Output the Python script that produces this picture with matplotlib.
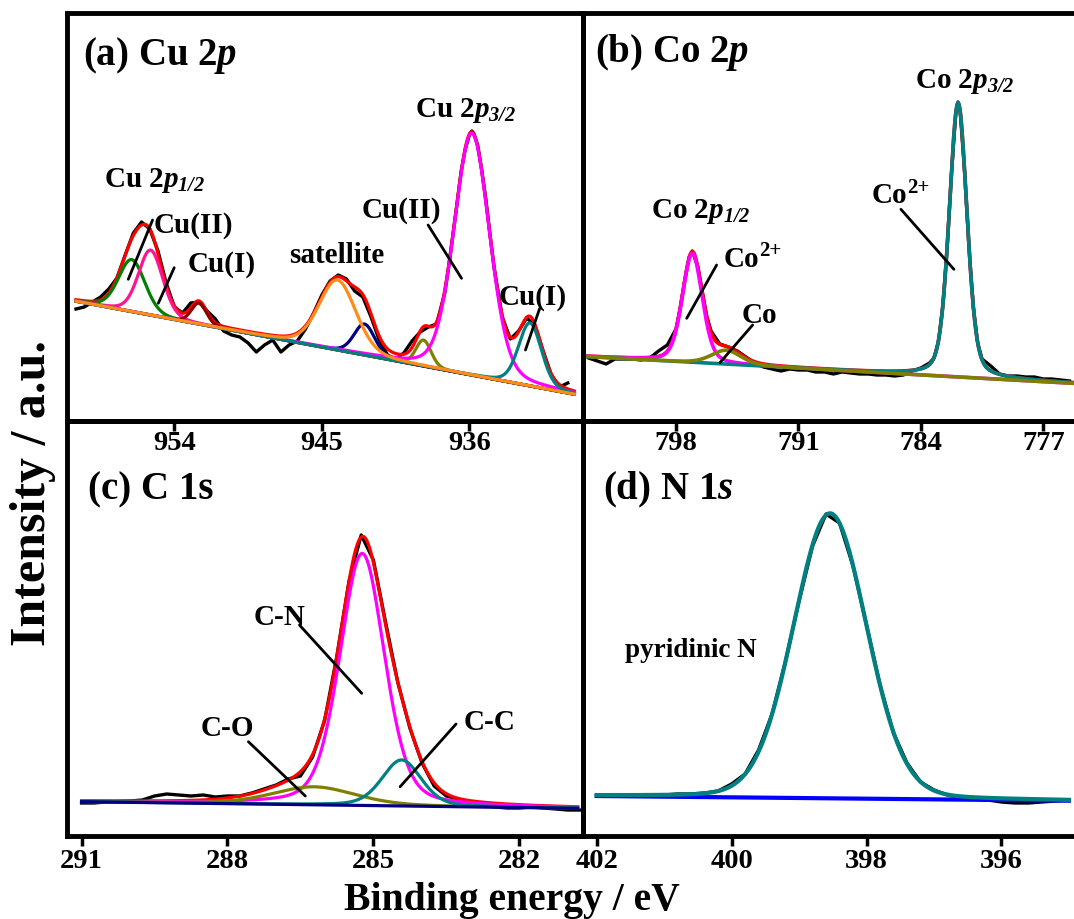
import numpy as np
import matplotlib
matplotlib.use("Agg")
import matplotlib.pyplot as plt

plt.rcParams['font.family'] = ['Liberation Serif', 'DejaVu Serif']
plt.rcParams['font.weight'] = 'bold'
plt.rcParams['mathtext.fontset'] = 'custom'
plt.rcParams['mathtext.rm'] = 'Liberation Serif:bold'
plt.rcParams['mathtext.it'] = 'Liberation Serif:italic:bold'
plt.rcParams['mathtext.bf'] = 'Liberation Serif:bold'
plt.rcParams['mathtext.sf'] = 'Liberation Serif:italic:bold'

# ---------------- data (intensity in arbitrary units) ----------------
# (a) Cu 2p
cu_energy = [960, 959.5, 959, 958.5, 958, 957.5, 957, 956.5, 956, 955.5,
             955, 954.5, 954, 953.5, 953, 952.5, 952, 951.5, 951, 950.5,
             950, 949.5, 949, 948.5, 948, 947.5, 947, 946.5, 946, 945.5,
             945, 944.5, 944, 943.5, 943, 942.5, 942, 941.5, 941, 940.5,
             940, 939.5, 939, 938.5, 938, 937.5, 937.25, 937, 936.75, 936.5,
             936.25, 936, 935.85, 935.75, 935.5, 935.25, 935, 934.75, 934.5, 934,
             933.5, 933, 932.5, 932, 931.5, 931, 930.5, 930]
cu_raw = [112, 114, 119, 124, 132, 143, 166, 188, 199, 192,
          170, 138, 114, 108, 118, 119, 110, 102, 90, 86,
          84, 78, 69, 76, 81, 69, 76, 80, 92, 108,
          126, 140, 146, 142, 130, 124, 104, 81, 66, 62,
          68, 80, 89, 94, 97, 128, 156, 187, 218, 250,
          272, 286, 290, 288, 276, 251, 222, 187, 154, 104,
          82, 90, 103, 95, 70, 46, 34, 38]
cu_base_E = [960.0, 929.6]
cu_base_I = [119.8, 26.8]
cu_center = [956.6, 955.45, 952.5, 942.4, 938.8, 935.85, 932.3, 944.05]
cu_height = [52, 65, 21, 31, 26, 242, 63, 70]
cu_fwhm = [1.9, 1.75, 1.1, 1.5, 1.1, 2.54, 1.65, 2.65]

# (b) Co 2p
co_energy = [803, 802.5, 802, 801.5, 801, 800.5, 800, 799.5, 799, 798.5,
             798, 797.75, 797.5, 797.25, 797.07, 796.75, 796.5, 796.25, 796, 795.5,
             795, 794.5, 794, 793.5, 793, 792.5, 792, 791.5, 791, 790.5,
             790, 789.5, 789, 788.5, 788, 787.5, 787, 786.5, 786, 785.5,
             785, 784.5, 784, 783.5, 783.25, 783, 782.75, 782.5, 782.25, 782,
             781.875, 781.75, 781.5, 781.25, 781, 780.75, 780.5, 780, 779.5, 779,
             778.5, 778, 777.5, 777, 776.5, 776, 775.5]
co_raw = [63, 60, 57, 62, 62, 62, 61, 63, 70, 76,
          92, 114, 141, 164, 170, 154, 129, 105, 90, 77,
          74, 70, 64, 58, 54, 52, 50, 52, 51, 51,
          49, 49, 47, 49, 48, 47, 47, 46, 46, 45,
          46, 50, 53, 58, 63, 79, 114, 172, 248, 308,
          319, 309, 250, 174, 114, 78, 62, 55, 47, 45,
          45, 44, 44, 42, 42, 41, 40]
co_base_E = [803.1, 775.3]
co_base_I = [64.4, 37.7]
co_center = [797.07, 781.87, 795.13]
co_height = [109, 274, 14]
co_fwhm = [1.35, 1.2, 2.0]

# (c) C 1s
c_energy = np.linspace(291, 280.75, 42)
c_raw = [33, 33, 34, 34.5, 35, 36, 40, 42, 41, 40,
         41, 39, 40, 40, 43, 47, 51, 57, 60, 79,
         116, 180, 255, 301, 276, 214, 154, 108, 73, 50,
         40, 37, 33, 31, 29, 28, 28, 29, 28, 27,
         26, 26]
c_base_E = [291.0, 280.8]
c_base_I = [34.3, 27.7]
c_center = [285.23, 286.22, 284.42]
c_height = [252, 18, 46]
c_fwhm = [1.08, 2.0, 0.95]

# (d) N 1s
n_energy = np.linspace(402, 395, 36)
n_raw = [40, 40, 41, 41, 41, 41, 42, 42, 43, 45,
         52, 62, 86, 122, 175, 235, 290, 322, 313, 270,
         211, 151, 103, 73, 54, 46, 41, 38, 37, 36,
         34, 33, 33, 34, 35, 36]
n_base_E = [402.0, 395.0]
n_base_I = [40.0, 35.3]
n_center = [398.54]
n_height = [285]
n_fwhm = [1.28]


def pseudo_voigt(E, c, h, w, eta):
    d = (E - c) / w
    return h * ((1 - eta) * np.exp(-4 * np.log(2) * d ** 2) + eta / (1 + 4 * d ** 2))


def draw_fit(ax, energy, raw, base_E, base_I, centers, heights, fwhms, eta,
             colors, envelope=True, base_color=None, lw=2.3):
    E = np.linspace(base_E[0], base_E[1], 1500)
    base = np.interp(E, base_E[::-1], base_I[::-1])
    peaks = [pseudo_voigt(E, c, h, w, eta) for c, h, w in zip(centers, heights, fwhms)]
    ax.plot(energy, raw, color='black', lw=2.4)
    if envelope:
        ax.plot(E, base + np.sum(peaks, axis=0), color='#FF0000', lw=lw)
    if base_color is not None:
        ax.plot(E, base, color=base_color, lw=lw)
    for p, col in zip(peaks, colors):
        ax.plot(E, base + p, color=col, lw=lw)
    return E, base


def leader(ax, p1, p2):
    ax.annotate('', xy=p2, xytext=p1,
                arrowprops=dict(arrowstyle='-', lw=2.0, color='black',
                                shrinkA=0, shrinkB=0))


def co2plus(ax, E, I):
    ax.text(E, I, 'Co', fontsize=21, va='baseline')
    ax.annotate('2+', xy=(E, I), xytext=(25.5, 7.5), textcoords='offset points',
                fontsize=15, va='baseline', ha='left')


W, H = 1074, 919
fig = plt.figure(figsize=(W / 100, H / 100), dpi=100)


def px_axes(left, top, right, bottom):
    ax = fig.add_axes([left / W, 1 - bottom / H, (right - left) / W, (bottom - top) / H])
    ax.set_facecolor('none')
    for s in ax.spines.values():
        s.set_linewidth(3.5)
    ax.set_yticks([])
    ax.tick_params(axis='x', direction='out', length=7, width=2.5,
                   labelsize=20.5, top=False)
    return ax


ax_a = px_axes(67, 13, 582.5, 421)
ax_b = px_axes(582.5, 13, 1077, 421)
ax_c = px_axes(67, 421, 582.5, 836)
ax_d = px_axes(582.5, 421, 1077, 836)
for ax in (ax_b, ax_d):
    ax.spines['right'].set_visible(False)
for ax in (ax_a, ax_b):
    ax.tick_params(axis='x', pad=0.5)
for ax in (ax_c, ax_d):
    ax.tick_params(axis='x', pad=2)

# ---- (a) ----
draw_fit(ax_a, cu_energy, cu_raw, cu_base_E, cu_base_I, cu_center, cu_height, cu_fwhm, 0.2,
         ['#008000', '#FF1493', '#8B0000', '#000080', '#808000', '#FF00FF', '#008080', '#FF8C1A'])
ax_a.set_xlim(960.55, 929.1)
ax_a.set_ylim(0, 408)
ax_a.set_xticks([954, 945, 936])
ax_a.text(0.031, 0.895, '(a) Cu 2$p$', transform=ax_a.transAxes, fontsize=28, va='center')
ax_a.text(936.22, 304, 'Cu 2$p_{\\mathsf{3/2}}$', fontsize=21, ha='center', va='baseline')
ax_a.text(955.18, 234, 'Cu 2$p_{\\mathsf{1/2}}$', fontsize=21, ha='center', va='baseline')
ax_a.text(955.25, 188, 'Cu(II)', fontsize=21, va='baseline')
ax_a.text(953.17, 149, 'Cu(I)', fontsize=21, va='baseline')
ax_a.text(947.0, 158, 'satellite', fontsize=21, va='baseline')
ax_a.text(942.56, 203, 'Cu(II)', fontsize=21, va='baseline')
ax_a.text(934.21, 116, 'Cu(I)', fontsize=21, va='baseline')
leader(ax_a, (955.33, 201), (956.81, 141.7))
leader(ax_a, (954.01, 153.3), (954.98, 117.7))
leader(ax_a, (938.52, 196), (936.48, 142.7))
leader(ax_a, (931.71, 112.7), (932.58, 71))

# ---- (b) ----
draw_fit(ax_b, co_energy, co_raw, co_base_E, co_base_I, co_center, co_height, co_fwhm, 0.3,
         ['#FF00FF', '#008080', '#808000'], lw=2.6)
ax_b.set_xlim(803.35, 775.07)
ax_b.set_ylim(0, 408)
ax_b.set_xticks([798, 791, 784, 777])
ax_b.text(0.025, 0.902, '(b) Co 2$p$', transform=ax_b.transAxes, fontsize=28, va='center')
ax_b.text(781.51, 332.7, 'Co 2$p_{\\mathsf{3/2}}$', fontsize=21, ha='center', va='baseline')
ax_b.text(796.6, 202.7, 'Co 2$p_{\\mathsf{1/2}}$', fontsize=21, ha='center', va='baseline')
co2plus(ax_b, 795.3, 154.3)
ax_b.text(794.25, 97.7, 'Co', fontsize=21, va='baseline')
co2plus(ax_b, 786.8, 217.7)
leader(ax_b, (795.68, 156), (797.39, 102.7))
leader(ax_b, (793.62, 96), (795.49, 58.3))
leader(ax_b, (785.14, 211.7), (782.11, 151.7))

# ---- (c) ----
E_c, base_c = draw_fit(ax_c, c_energy, c_raw, c_base_E, c_base_I, c_center, c_height, c_fwhm, 0.3,
                       ['#FF00FF', '#808000', '#008080'])
ax_c.plot(E_c, base_c, color='#000080', lw=2.3)
ax_c.set_xlim(291.30, 280.7)
ax_c.set_ylim(0, 415)
ax_c.set_xticks([291, 288, 285, 282])
ax_c.text(0.041, 0.834, '(c) C 1s', transform=ax_c.transAxes, fontsize=28, va='center')
ax_c.text(287.47, 211, 'C-N', fontsize=21, va='baseline')
ax_c.text(288.56, 100, 'C-O', fontsize=21, va='baseline')
ax_c.text(283.15, 106, 'C-C', fontsize=21, va='baseline')
leader(ax_c, (286.52, 211), (285.24, 142.7))
leader(ax_c, (287.57, 94.3), (286.40, 40))
leader(ax_c, (283.30, 112), (284.45, 49.3))

# ---- (d) ----
draw_fit(ax_d, n_energy, n_raw, n_base_E, n_base_I, n_center, n_height, n_fwhm, 0.1,
         ['#008080'], envelope=False, base_color='#0000FF', lw=3.0)
ax_d.set_xlim(402.21, 394.88)
ax_d.set_ylim(0, 415)
ax_d.set_xticks([402, 400, 398, 396])
ax_d.text(0.042, 0.834, '(d) N 1$s$', transform=ax_d.transAxes, fontsize=28, va='center')
ax_d.text(401.58, 179.3, 'pyridinic N', fontsize=19.5, va='baseline')

fig.text(512 / W, 1 - 910 / H, 'Binding energy / eV', fontsize=28.5, ha='center', va='baseline')
fig.text(33 / W, 1 - 493.5 / H, 'Intensity / a.u.', fontsize=36, rotation=90,
         ha='center', va='center')

fig.savefig('out.png', dpi=100)
